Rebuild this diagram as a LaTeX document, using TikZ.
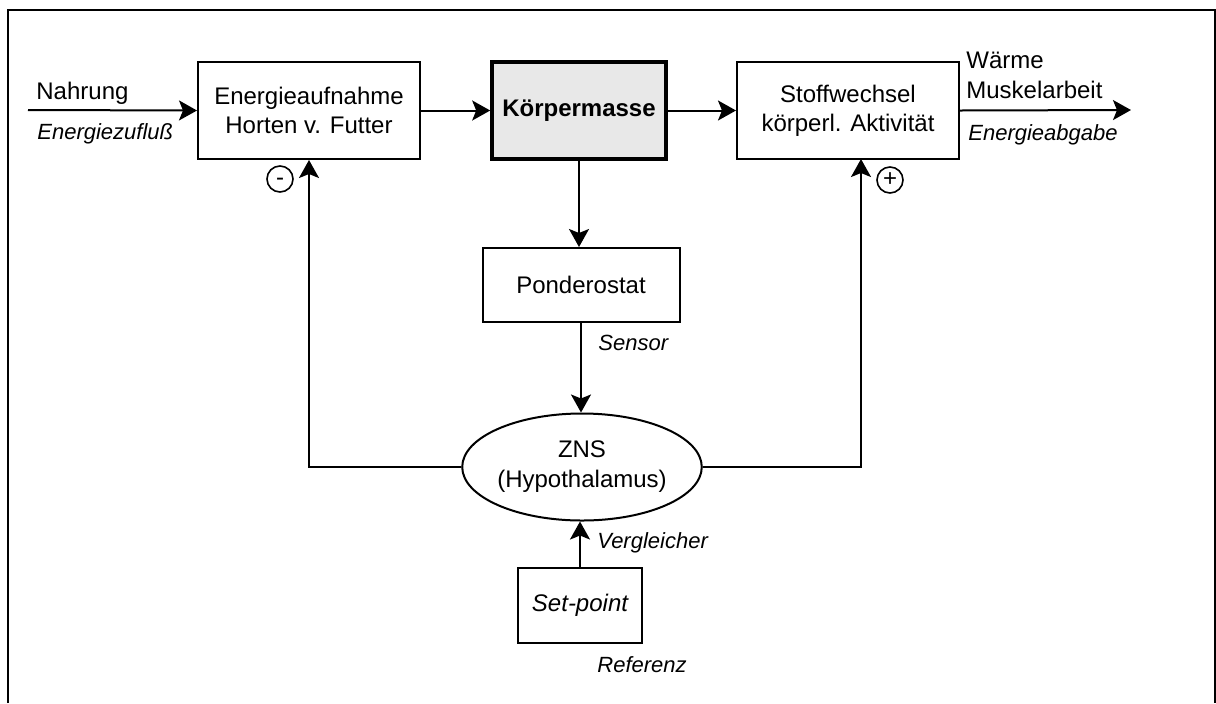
\documentclass[tikz,border=0pt]{standalone}
\usepackage{fontspec}
\setmainfont{Liberation Sans}
\usetikzlibrary{arrows.meta,shapes.geometric}
\definecolor{kmfill}{HTML}{E8E8E8}
\begin{document}
\begin{tikzpicture}[x=0.5pt,y=-0.5pt,
  box/.style={draw, line width=1pt, align=center, inner sep=0pt,
    font=\fontsize{12}{14.5}\selectfont},
  arr/.style={line width=1pt, -{Stealth[length=9pt,width=10pt,inset=2pt]}},
  lab/.style={inner sep=0pt, font=\fontsize{12}{15}\selectfont},
  ilab/.style={inner sep=0pt, font=\fontsize{11}{13}\selectfont\itshape},
  sign/.style={draw, circle, line width=0.8pt, minimum size=13pt, inner sep=0pt,
    font=\fontsize{12}{12}\selectfont}
]
\useasboundingbox (0,0) rectangle (1216,703);
% frame
\draw[line width=1pt] (8,703) -- (8,10) -- (1215,10) -- (1215,703);

% main boxes
\node[box, minimum width=111pt, minimum height=48.5pt] (ea) at (309,110.5)
  {Energieaufnahme\\Horten v. Futter};
\node[box, line width=1.8pt, fill=kmfill, minimum width=87pt, minimum height=48.5pt,
  font=\fontsize{12}{14.5}\selectfont\bfseries] (km) at (579,110.5) {Körpermasse};
\node[box, minimum width=111pt, minimum height=48.5pt] (sw) at (848,110.5)
  {Stoffwechsel\\körperl. Aktivität};
\node[box, minimum width=98.5pt, minimum height=37pt] (pond) at (581,285) {Ponderostat};
\node[draw, ellipse, line width=1pt, minimum width=109.5pt, minimum height=53.5pt,
  inner sep=0pt, align=center, font=\fontsize{12}{15}\selectfont] (zns) at (582,467)
  {ZNS\\(Hypothalamus)};
\node[box, minimum width=62pt, minimum height=37.5pt,
  font=\fontsize{12}{14.5}\selectfont\itshape] (setp) at (580,605.5) {Set-point};

% input / output
\coordinate (in) at (28,110);
\coordinate (out) at (1131,110);
\draw[arr] (in) -- (ea.west);
\draw[arr] (ea.east) -- (km.west);
\draw[arr] (km.east) -- (sw.west);
\draw[arr] (sw.east) -- (out);

\node[lab, anchor=base west] (nahr) at (36,99) {Nahrung};
\node[ilab, anchor=base west] (ezu) at (37,139) {Energiezufluß};
\node[lab, anchor=base west] (waerme) at (966,68) {Wärme};
\node[lab, anchor=base west] (musk) at (966,98) {Muskelarbeit};
\node[ilab, anchor=base west] (eab) at (968,140) {Energieabgabe};

% vertical chain
\draw[arr] (km.south) -- (km.south |- pond.north);
\draw[arr] (pond.south) -- (pond.south |- zns.north);
\draw[arr] (setp.north) -- (setp.north |- zns.south);

\node[ilab, anchor=west] (sensor) at (598,343) {Sensor};
\node[ilab, anchor=west] (vgl) at (597,543) {Vergleicher};
\node[ilab, anchor=west] (ref) at (597,665) {Referenz};

% feedback
\coordinate (swin) at (861,159);
\draw[arr] (zns.west) -| (ea.south);
\draw[arr] (zns.east) -| (swin);

\node[sign] (minus) at (280,179) {\vphantom{+}-};
\node[sign] (plus) at (890,180) {+};
\end{tikzpicture}
\end{document}
